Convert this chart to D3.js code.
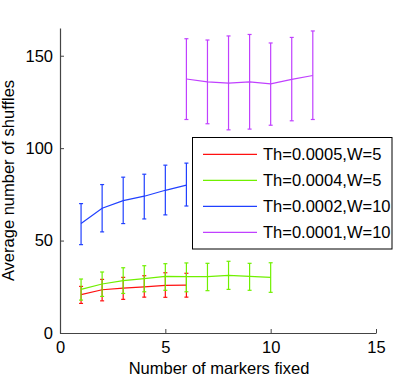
<!DOCTYPE html>
<html><head><meta charset="utf-8">
<script src="https://cdn.jsdelivr.net/npm/d3@7"></script>
<style>
html,body{margin:0;padding:0;background:#fff;}
svg{display:block;font-family:"Liberation Sans",Arial,Helvetica,sans-serif;}
</style></head>
<body>
<svg id="chart" width="415" height="380"></svg>
<script>
// ---- data ----
const seriesNames = ["Th=0.0005,W=5", "Th=0.0004,W=5", "Th=0.0002,W=10", "Th=0.0001,W=10"];
const seriesColors = ["#ff1010", "#70f000", "#2040ff", "#c040ff"];

const redX = [1, 2, 3, 4, 5, 6];
const redMean = [20.8, 23.4, 24.3, 25.0, 25.8, 25.9];
const redLow  = [16.0, 17.4, 18.2, 19.4, 19.3, 19.4];
const redHigh = [25.2, 29.0, 30.1, 31.0, 32.6, 32.3];

const greenX = [1, 2, 3, 4, 5, 6, 7, 8, 9, 10];
const greenMean = [23.6, 26.5, 28.3, 29.4, 30.6, 30.5, 30.5, 31.2, 30.6, 30.1];
const greenLow  = [17.8, 19.8, 21.4, 22.3, 23.1, 22.3, 22.9, 23.6, 23.1, 22.0];
const greenHigh = [29.2, 33.0, 35.3, 36.4, 37.5, 37.9, 37.7, 38.8, 37.7, 38.0];

const blueX = [1, 2, 3, 4, 5, 6];
const blueMean = [59.2, 67.5, 71.6, 74.0, 77.2, 80.0];
const blueLow  = [47.8, 54.7, 59.2, 61.7, 63.9, 68.7];
const blueHigh = [70.0, 80.3, 84.3, 85.9, 90.8, 91.9];

const magX = [6, 7, 8, 9, 10, 11, 12];
const magMean = [137.4, 135.9, 135.2, 135.9, 134.8, 137.2, 139.3];
const magLow  = [115.5, 113.2, 109.9, 110.3, 112.4, 114.8, 115.5];
const magHigh = [159.2, 158.5, 160.7, 161.5, 156.9, 159.9, 163.4];

const xTicks = [0, 5, 10, 15];
const yTicks = [0, 50, 100, 150];
const xLabel = "Number of markers fixed";
const yLabel = "Average number of shuffles";

// ---- layout ----
const svg = d3.select("#chart");
const L = 60, R = 376, T = 28, B = 333;
const x = d3.scaleLinear().domain([0, 15]).range([L, R]);
const y = d3.scaleLinear().domain([0, 165]).range([B, T]);

const series = [
  {x: redX, m: redMean, lo: redLow, hi: redHigh},
  {x: greenX, m: greenMean, lo: greenLow, hi: greenHigh},
  {x: blueX, m: blueMean, lo: blueLow, hi: blueHigh},
  {x: magX, m: magMean, lo: magLow, hi: magHigh}
].map((s, i) => ({
  name: seriesNames[i], color: seriesColors[i],
  pts: s.x.map((xv, j) => ({x: xv, m: s.m[j], lo: s.lo[j], hi: s.hi[j]}))
}));

// axes
const fs = 16.5;
const xAxis = d3.axisBottom(x).tickValues(xTicks).tickSize(-4).tickPadding(8).tickSizeOuter(0);
const gx = svg.append("g").attr("transform", `translate(0,${B})`).call(xAxis);
const yAxis = d3.axisLeft(y).tickValues(yTicks).tickSize(-4).tickPadding(7).tickSizeOuter(0);
const gy = svg.append("g").attr("transform", `translate(${L},0)`).call(yAxis);
[gx, gy].forEach(g => {
  g.select(".domain").attr("stroke", "#444").attr("stroke-width", 1.2);
  g.selectAll(".tick line").attr("stroke", "#444");
  g.selectAll(".tick text").attr("font-size", fs).attr("fill", "#000")
    .attr("font-family", "Liberation Sans, Arial, sans-serif");
});

svg.append("text").attr("x", (L + R) / 2 + 1).attr("y", 374).attr("text-anchor", "middle")
  .attr("font-size", fs).text(xLabel);
svg.append("text").attr("transform", `translate(14,${(T + B) / 2}) rotate(-90)`)
  .attr("text-anchor", "middle").attr("font-size", fs).text(yLabel);

// series
const line = d3.line().x(d => x(d.x)).y(d => y(d.m));
series.forEach(s => {
  const g = svg.append("g");
  g.append("path").datum(s.pts).attr("d", line).attr("fill", "none")
    .attr("stroke", s.color).attr("stroke-width", 1.2);
  const eb = g.selectAll(".eb").data(s.pts).enter().append("g");
  eb.append("line").attr("x1", d => x(d.x)).attr("x2", d => x(d.x))
    .attr("y1", d => y(d.lo)).attr("y2", d => y(d.hi))
    .attr("stroke", s.color).attr("stroke-width", 1.2);
  eb.append("line").attr("x1", d => x(d.x) - 2).attr("x2", d => x(d.x) + 2)
    .attr("y1", d => y(d.lo)).attr("y2", d => y(d.lo))
    .attr("stroke", s.color).attr("stroke-width", 1.2);
  eb.append("line").attr("x1", d => x(d.x) - 2).attr("x2", d => x(d.x) + 2)
    .attr("y1", d => y(d.hi)).attr("y2", d => y(d.hi))
    .attr("stroke", s.color).attr("stroke-width", 1.2);
});

// legend
const lg = svg.append("g");
lg.append("rect").attr("x", 192.5).attr("y", 137.5).attr("width", 199.5).attr("height", 111.5)
  .attr("fill", "#fff").attr("stroke", "#000").attr("stroke-width", 1);
series.forEach((s, i) => {
  const yy = 154.3 + i * 26;
  lg.append("line").attr("x1", 203).attr("x2", 257).attr("y1", yy).attr("y2", yy)
    .attr("stroke", s.color).attr("stroke-width", 1.2);
  lg.append("text").attr("x", 263).attr("y", yy + 6).attr("font-size", fs).text(s.name);
});
</script>
</body></html>
